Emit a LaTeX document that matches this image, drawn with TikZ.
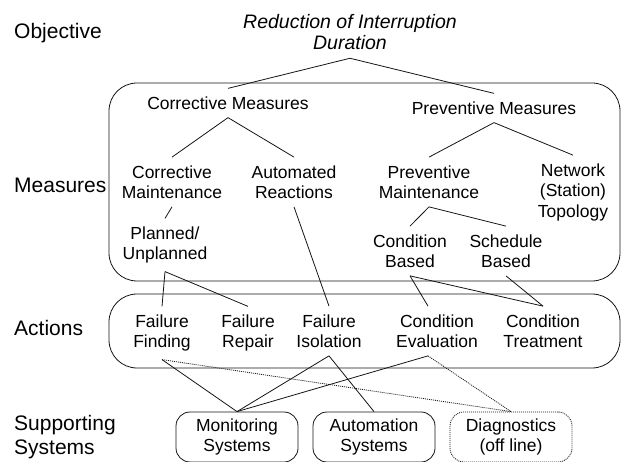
\documentclass[tikz,border=0pt]{standalone}
\usepackage{fontspec}
\setmainfont{Liberation Sans}
\usepackage{tikz}
\usetikzlibrary{shapes.geometric, arrows, positioning, calc}
\definecolor{colorLine}{RGB}{20, 20, 20}
\tikzstyle{rowname} = [anchor=west, align=left, inner sep=0pt, font=\fontsize{21}{24}\selectfont]
\tikzstyle{goal} = [align=center, inner sep=8pt, font=\fontsize{19.5}{21}\selectfont\itshape]
\tikzstyle{measure} = [align=center, inner sep=8pt, font=\fontsize{17.5}{20.5}\selectfont]
\tikzstyle{group} = [rectangle, rounded corners=28pt, draw=colorLine, line width=0.8pt, inner sep=0pt]
\tikzstyle{system} = [measure, rectangle, rounded corners=14pt, draw=colorLine, line width=0.8pt, minimum width=122pt, minimum height=50pt, inner sep=2pt]
\tikzstyle{link} = [draw=colorLine, line width=0.8pt]
\tikzstyle{dotlink} = [link, dash pattern=on 1pt off 1pt]

\begin{document}
\begin{tikzpicture}[x=1pt, y=-1pt]
	\useasboundingbox (0,0) rectangle (621,462);

	% frames
	\node (measBox)[group, minimum width=511pt, minimum height=198pt] at (364.5,182) {};
	\node (actBox)[group, minimum width=511pt, minimum height=74pt] at (364.5,331) {};

	% row names
	\node (nObjective)[rowname] at (14,33) {Objective};
	\node (nMeasures)[rowname] at (14,185) {Measures};
	\node (nActions)[rowname] at (14,328) {Actions};
	\node (nSupport)[rowname] at (14,437) {Supporting\\Systems};

	% objective
	\node (goal)[goal] at (350,32.4) {Reduction of Interruption\\Duration};

	% measures
	\node (corrMeas)[measure] at (228,103) {Corrective Measures};
	\node (prevMeas)[measure] at (494,108) {Preventive Measures};

	\node (corrMaint)[measure] at (172,182) {Corrective\\Maintenance};
	\node (autoReact)[measure, xshift=122pt] at (corrMaint) {Automated\\Reactions};
	\node (prevMaint)[measure] at (429,182) {Preventive\\Maintenance};
	\node (netTopo)[measure] at (573,192) {Network\\(Station)\\Topology};

	\node (planned)[measure] at (165,245) {Planned/\\Unplanned};
	\node (condBased)[measure] at (410,251) {Condition\\Based};
	\node (schedBased)[measure, xshift=96pt] at (condBased) {Schedule\\Based};

	% actions
	\node (failFind)[measure] at (162,333) {Failure\\Finding};
	\node (failRepair)[measure] at (248,333) {Failure\\Repair};
	\node (failIso)[measure] at (329,331) {Failure\\Isolation};
	\node (condEval)[measure] at (437,331) {Condition\\Evaluation};
	\node (condTreat)[measure] at (543,331) {Condition\\Treatment};

	% supporting systems
	\node (monSys)[system] at (237,437) {Monitoring\\Systems};
	\node (autoSys)[system, xshift=137pt] at (monSys) {Automation\\Systems};
	\node (diagSys)[system, dash pattern=on 1pt off 1pt, xshift=137pt] at (autoSys) {Diagnostics\\(off line)};

	% lines
	\draw[link] (goal.south) -- (corrMeas.north);
	\draw[link] (goal.south) -- (prevMeas.north);
	\draw[link] (corrMeas.south) -- (corrMaint.north);
	\draw[link] (corrMeas.south) -- (autoReact.north);
	\draw[link] (prevMeas.south) -- (prevMaint.north);
	\draw[link] (prevMeas.south) -- (netTopo.north);
	\draw[link] (corrMaint.south) -- (planned.north);
	\draw[link] (prevMaint.south) -- (condBased.north);
	\draw[link] (prevMaint.south) -- (schedBased.north);

	\draw[link] (planned.south) -- (failFind.north);
	\draw[link] (planned.south) -- (failRepair.north);
	\draw[link] (autoReact.south) -- (failIso.north);
	\draw[link] (condBased.south) -- ([xshift=-9pt]condEval.north);
	\draw[link] (condBased.south) -- (condTreat.north);
	\draw[link] (schedBased.south) -- (condTreat.north);

	\draw[link] (failFind.south) -- (monSys.north);
	\draw[link] (failIso.south) -- (monSys.north);
	\draw[link] (failIso.south) -- (autoSys.north);
	\draw[link] ([xshift=-9pt]condEval.south) -- (monSys.north);

	% dotted lines
	\draw[dotlink] (failFind.south) -- (diagSys.north);
	\draw[dotlink] ([xshift=-9pt]condEval.south) -- (diagSys.north);

\end{tikzpicture}
\end{document}
